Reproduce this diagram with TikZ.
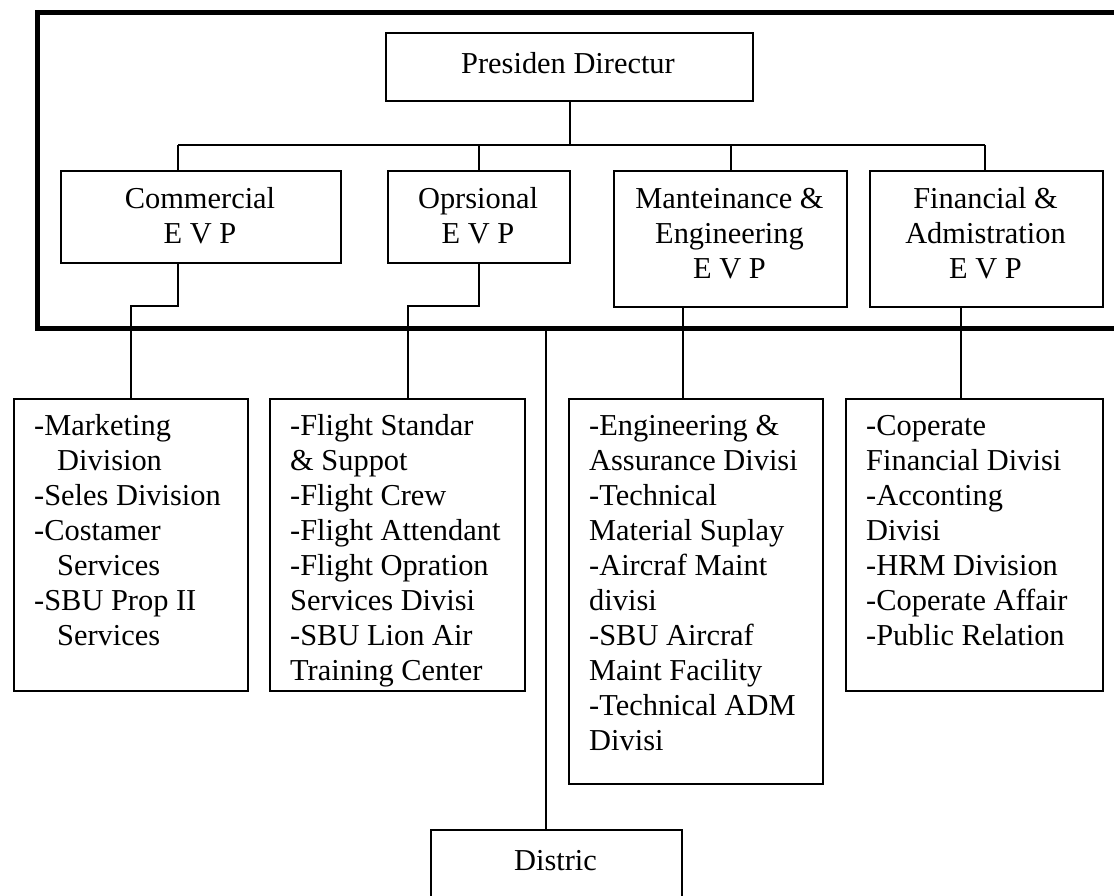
\documentclass[tikz,border=0pt]{standalone}
\usepackage{fontspec}
\setmainfont{Liberation Serif}
\begin{document}
\begin{tikzpicture}[x=1pt,y=-1pt,
  box/.style={draw, line width=2pt, inner sep=0pt, anchor=north west},
  conn/.style={line width=2pt},
  framepath/.style={line width=5pt},
  txt/.style={inner sep=0pt, font=\fontsize{30.4}{35}\selectfont}]
\useasboundingbox (0,0) rectangle (1114,895);
\clip (0,0) rectangle (1114,895);
\fill[white] (0,0) rectangle (1114,895);

% outer frame (open on the right)
\draw[framepath] (1120,12) -- (37,12) -- (37,328) -- (1120,328);

% boxes
\node[box, minimum width=367pt, minimum height=68pt] (pres) at (385,32) {};
\node[box, minimum width=280pt, minimum height=92pt] (com) at (60,170) {};
\node[box, minimum width=182pt, minimum height=92pt] (ops) at (387,170) {};
\node[box, minimum width=233pt, minimum height=136pt] (mnt) at (613,170) {};
\node[box, minimum width=233pt, minimum height=136pt] (fin) at (869,170) {};
\node[box, minimum width=234pt, minimum height=292pt] (mkt) at (13,398) {};
\node[box, minimum width=255pt, minimum height=292pt] (flt) at (269,398) {};
\node[box, minimum width=254pt, minimum height=385pt] (eng) at (568,398) {};
\node[box, minimum width=257pt, minimum height=292pt] (cop) at (845,398) {};
\node[box, minimum width=251pt, minimum height=120pt] (dis) at (430,829) {};

% texts
\node[txt, anchor=base] (presT) at (568,73) {Presiden Directur};
\node[txt, anchor=base] (comT) at (200,208) {\parbox[t]{260pt}{\centering Commercial\\E V P}};
\node[txt, anchor=base] (opsT) at (478,208) {\parbox[t]{170pt}{\centering Oprsional\\E V P}};
\node[txt, anchor=base] (mntT) at (729.5,208) {\parbox[t]{225pt}{\centering Manteinance \&\\Engineering\\E V P}};
\node[txt, anchor=base] (finT) at (985.5,208) {\parbox[t]{225pt}{\centering Financial \&\\Admistration\\E V P}};
\node[txt, anchor=base west] (mktT) at (34,435) {\parbox[t]{210pt}{\raggedright -Marketing\\\hspace*{23pt}Division\\-Seles Division\\-Costamer\\\hspace*{23pt}Services\\-SBU Prop II\\\hspace*{23pt}Services}};
\node[txt, anchor=base west] (fltT) at (290,435) {\parbox[t]{232pt}{\raggedright -Flight Standar\\\& Suppot\\-Flight Crew\\-Flight Attendant\\-Flight Opration\\Services Divisi\\-SBU Lion Air\\Training Center}};
\node[txt, anchor=base west] (engT) at (589,435) {\parbox[t]{230pt}{\raggedright -Engineering \&\\Assurance Divisi\\-Technical\\Material Suplay\\-Aircraf Maint\\divisi\\-SBU Aircraf\\Maint Facility\\-Technical ADM\\Divisi}};
\node[txt, anchor=base west] (copT) at (866,435) {\parbox[t]{232pt}{\raggedright -Coperate\\Financial Divisi\\-Acconting\\Divisi\\-HRM Division\\-Coperate Affair\\-Public Relation}};
\node[txt, anchor=base] (disT) at (555.5,870) {Distric};

% connector points
\coordinate (busL) at (178,145);
\coordinate (busR) at (985,145);
\coordinate (k1) at (178,306);
\coordinate (k2) at (408,306);
\coordinate (k3) at (683,306);
\coordinate (k4) at (961,306);
\coordinate (k5) at (546,328);

% upper connectors
\draw[conn] (busL) -- (busR);
\draw[conn] (pres.south) -- (pres.south |- busL);
\draw[conn] (busL) -- (busL |- com.north);
\draw[conn] (ops.north) -- (ops.north |- busL);
\draw[conn] (mnt.north) -- (mnt.north |- busL);
\draw[conn] (busR) -- (busR |- fin.north);

% lower connectors
\draw[conn] (k1 |- com.south) -- (k1) -| (mkt.north);
\draw[conn] (ops.south) -- (ops.south |- k2) -- (k2) -- (k2 |- flt.north);
\draw[conn] (k3) -- (k3 |- eng.north);
\draw[conn] (k4) -- (k4 |- cop.north);
\draw[conn] (k5) -- (k5 |- dis.north);
\end{tikzpicture}
\end{document}
